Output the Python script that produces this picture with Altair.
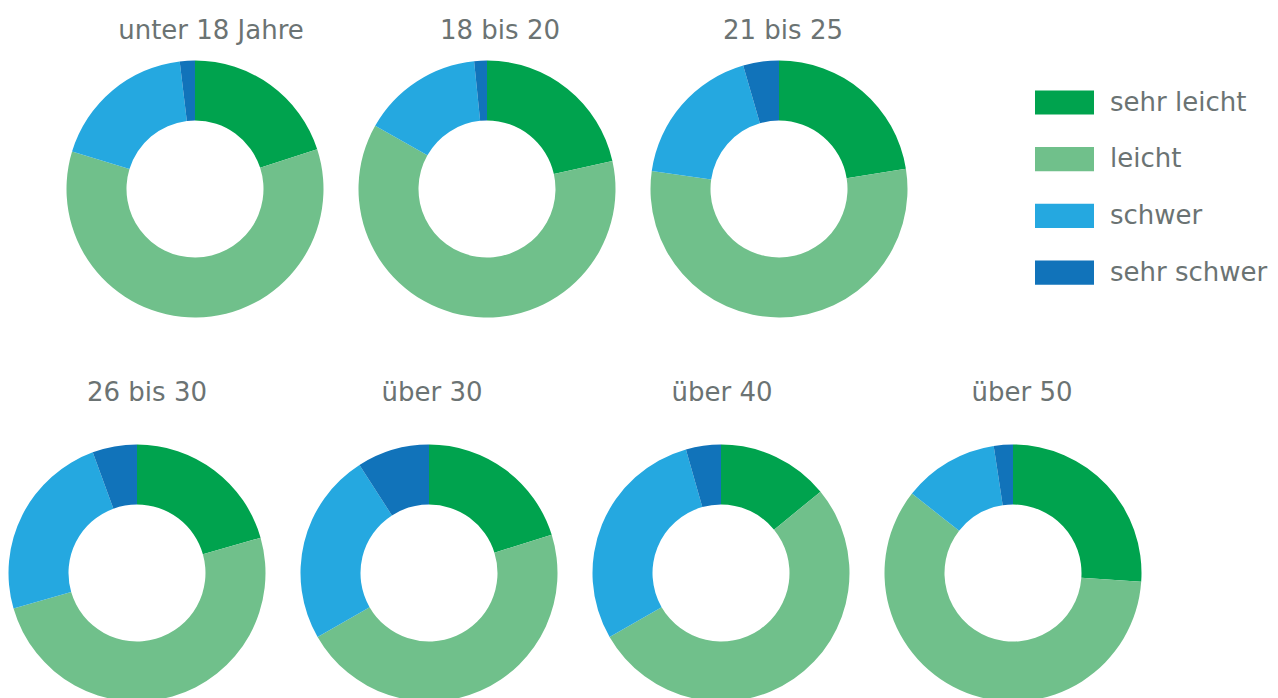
import altair as alt
import pandas as pd

groups = ["unter 18 Jahre", "18 bis 20", "21 bis 25", "26 bis 30", "über 30", "über 40", "über 50"]
categories = ["sehr leicht", "leicht", "schwer", "sehr schwer"]
sehr_leicht = [20.0, 21.5, 22.5, 20.6, 20.2, 14.1, 26.1]
leicht = [59.7, 61.7, 54.8, 50.0, 46.5, 52.6, 59.5]
schwer = [18.4, 15.2, 18.3, 23.9, 24.2, 28.9, 12.0]
sehr_schwer = [1.9, 1.6, 4.5, 5.6, 9.1, 4.4, 2.4]
colors = ["#00a34e", "#70c08b", "#25a8e0", "#1173ba"]
title_dx = [16, 13, 4, 10, 3, 1, 9]

series = [sehr_leicht, leicht, schwer, sehr_schwer]
rows = []
for gi, g in enumerate(groups):
    for ci, c in enumerate(categories):
        rows.append({"gruppe": g, "kategorie": c, "ord": ci, "wert": series[ci][gi]})
df = pd.DataFrame(rows)

FONT = "DejaVu Sans"
GRAY = "#6b7373"
SIZE = 258
RSEG = 128.5
RIN = 68.5

color_enc = alt.Color(
    "kategorie:N",
    scale=alt.Scale(domain=categories, range=colors),
    sort=categories,
    legend=alt.Legend(
        title=None,
        orient="none",
        legendX=1027,
        legendY=13,
        symbolType="M-1,-0.41L1,-0.41L1,0.41L-1,0.41Z",
        symbolSize=3481,
        symbolStrokeWidth=0,
        symbolOpacity=1,
        labelFont=FONT,
        labelFontSize=26,
        labelFontWeight="normal",
        labelColor=GRAY,
        labelOffset=16,
        rowPadding=13.7,
        labelLimit=300,
    ),
)


def donut(i, offset):
    g = groups[i]
    return (
        alt.Chart(df)
        .transform_filter(alt.datum.gruppe == g)
        .mark_arc(innerRadius=RIN, outerRadius=RSEG)
        .encode(
            theta=alt.Theta("wert:Q", stack=True),
            color=color_enc,
            order=alt.Order("ord:Q", sort="ascending"),
        )
        .properties(
            width=SIZE,
            height=SIZE,
            title=alt.TitleParams(
                g, font=FONT, fontSize=26, fontWeight="normal", color=GRAY,
                offset=offset, anchor="middle", dx=title_dx[i],
            ),
        )
    )


spacer = (
    alt.Chart(pd.DataFrame({"a": [0]}))
    .mark_point(opacity=0, size=1)
    .encode(x=alt.value(12), y=alt.value(129))
    .properties(width=24, height=SIZE)
)

top = alt.hconcat(spacer, *[donut(i, 16) for i in range(3)], spacing=34)
bottom = alt.hconcat(*[donut(i, 38) for i in range(3, 7)], spacing=34)

chart = (
    alt.vconcat(top, bottom, spacing=62)
    .properties(padding={"left": 0, "top": 10, "right": 0, "bottom": 0})
    .configure_view(stroke=None)
    .configure_concat(spacing=34)
)

chart.save("out.html", embed_options={"renderer": "svg", "actions": False})
